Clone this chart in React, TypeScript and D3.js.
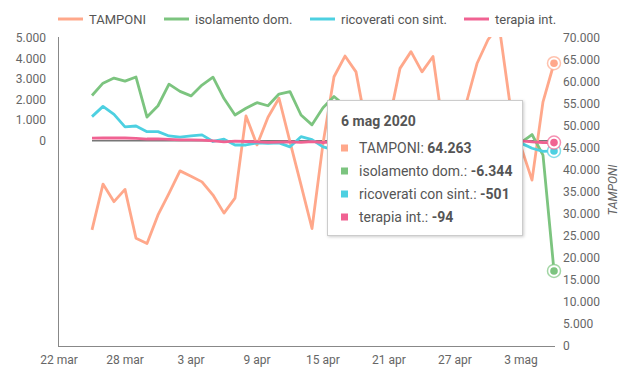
import React from "react";
import * as d3 from "d3";

const START = "2020-03-25";
const tamponi = [26400, 36800, 32800, 35600, 24500, 23300, 29800, 34700, 39800, 38600, 37300, 34300, 30200, 33600, 52300, 45700, 52000, 56300, 46400, 36600, 26700, 46000, 61200, 65900, 62300, 49000, 40000, 51000, 63100, 66900, 62300, 65800, 48000, 44000, 55000, 64200, 69600, 73000, 55000, 45300, 37700, 55500, 64263];
const isolamento = [2200, 2800, 3050, 2900, 3100, 1150, 1700, 2750, 2400, 2180, 2710, 3090, 2050, 1250, 1580, 1850, 1700, 2270, 2390, 1250, 770, 1600, 2150, 1700, 1800, 1500, 1000, 1600, 1200, 1500, 900, 1100, 600, 400, 800, 500, 300, 200, -100, -100, 300, -700, -6344];
const ricoverati = [1170, 1670, 1280, 670, 715, 440, 440, 230, 170, 230, 280, -40, 70, -210, -210, -110, -130, -110, -300, 195, 50, -300, -450, -350, -250, -400, -300, -350, -250, -300, -200, -350, -300, -250, -200, -300, -150, -200, -100, -120, -370, -520, -501];
const terapia = [120, 130, 130, 130, 110, 80, 90, 60, 40, 40, 30, -10, -60, -20, -40, -60, -80, -70, -60, -80, -50, -90, -40, -60, -70, -50, -80, -60, -90, -70, -60, -80, -50, -70, -60, -80, -50, -70, -40, -10, -60, -90, -94];

const seriesNames = ["TAMPONI", "isolamento dom.", "ricoverati con sint.", "terapia int."];
const seriesColors = ["#ffa88b", "#7cc47f", "#4dd0e1", "#f06292"];
const leftTicks = [0, 1000, 2000, 3000, 4000, 5000];
const rightTicks = [0, 5000, 10000, 15000, 20000, 25000, 30000, 35000, 40000, 45000, 50000, 55000, 60000, 65000, 70000];
const xTickLabels = ["22 mar", "28 mar", "3 apr", "9 apr", "15 apr", "21 apr", "27 apr", "3 mag"];
const tooltipTitle = "6 mag 2020";

const locale = d3.formatLocale({ decimal: ",", thousands: ".", grouping: [3], currency: ["€", ""], minus: "-" });
const fmt = locale.format(",d");

export default function App() {
  const W = 629, H = 380;
  const start = d3.timeParse("%Y-%m-%d")(START) as Date;
  const dates = tamponi.map((_, i) => d3.timeDay.offset(start, i));
  const x = d3.scaleTime().domain([d3.timeDay.offset(start, -3), dates[dates.length - 1]]).range([59, 554]);
  const yL = d3.scaleLinear().domain([-10000, 5000]).range([346, 38]);
  const yR = d3.scaleLinear().domain([0, 70000]).range([346, 38]);
  const xTicks = xTickLabels.map((_, i) => d3.timeDay.offset(start, -3 + i * 6));

  const all = [tamponi, isolamento, ricoverati, terapia];
  const lineFor = (k: number) =>
    d3.line<number>().x((_, i) => x(dates[i])).y((v) => (k === 0 ? yR(v) : yL(v)))(all[k]) || "";
  const zero = d3.line<Date>().x((d) => x(d)).y(() => yL(0))([dates[0], dates[dates.length - 1]]) || "";
  const last = dates.length - 1;
  const font = "Roboto, 'Noto Sans', sans-serif";

  const legendX = [58, 164, 310, 464];

  return (
    <svg width={W} height={H} style={{ position: "absolute", left: 0, top: 0 }} fontFamily={font}>
      <defs>
        <clipPath id="plot">
          <rect x={58} y={37} width={500} height={310} />
        </clipPath>
        <filter id="sh" x="-10%" y="-10%" width="130%" height="130%">
          <feDropShadow dx="1" dy="1" stdDeviation="1.5" floodColor="#000" floodOpacity="0.2" />
        </filter>
      </defs>
      {/* legend */}
      {seriesNames.map((n, i) => (
        <g key={n}>
          <line x1={legendX[i]} x2={legendX[i] + 25} y1={19} y2={19} stroke={seriesColors[i]} strokeWidth={3} />
          <text x={legendX[i] + 31} y={19} dy="0.35em" fontSize={13} fill="#555">{n}</text>
        </g>
      ))}
      {/* left axis */}
      {leftTicks.map((t) => (
        <text key={t} x={46} y={yL(t)} dy="0.35em" textAnchor="end" fontSize={12} fill="#666">{fmt(t)}</text>
      ))}
      {/* right axis */}
      {rightTicks.map((t) => (
        <text key={t} x={563} y={yR(t)} dy="0.35em" textAnchor="start" fontSize={12} fill="#666">{fmt(t)}</text>
      ))}
      <text transform={`translate(617,190) rotate(-90)`} textAnchor="middle" fontSize={12} fontStyle="italic" fill="#666">TAMPONI</text>
      {/* x axis labels */}
      {xTicks.map((d, i) => (
        <text key={i} x={x(d)} y={360} dy="0.35em" textAnchor="middle" fontSize={12} fill="#666">{xTickLabels[i]}</text>
      ))}
      <line x1={58.5} x2={58.5} y1={37} y2={346.5} stroke="#888" strokeWidth={1} />
      <line x1={58} x2={555} y1={346.5} y2={346.5} stroke="#888" strokeWidth={1} />
      <g clipPath="url(#plot)" fill="none" strokeWidth={2.8} strokeLinejoin="round">
        <path d={zero} stroke="#777" strokeWidth={1.5} />
        {all.map((_, k) => (
          <path key={k} d={lineFor(k)} stroke={seriesColors[k]} />
        ))}
      </g>
      {/* markers */}
      {all.map((s, k) => {
        const cx = x(dates[last]);
        const cy = k === 0 ? yR(s[last]) : yL(s[last]);
        return (
          <g key={k}>
            <circle cx={cx} cy={cy} r={6.5} fill="#fff" stroke={seriesColors[k]} strokeOpacity={0.7} strokeWidth={1.5} />
            <circle cx={cx} cy={cy} r={3.8} fill={seriesColors[k]} />
          </g>
        );
      })}
      {/* tooltip */}
      <g>
        <rect x={327.5} y={100.5} width={195} height={135} fill="#fff" stroke="#ccc" filter="url(#sh)" />
        <text x={341} y={121} dy="0.35em" fontSize={14} fontWeight="bold" fill="#555">{tooltipTitle}</text>
        {seriesNames.map((n, k) => (
          <g key={n}>
            <rect x={341} y={148 + k * 23 - 3.5} width={7} height={7} fill={seriesColors[k]} />
            <text x={359} y={148 + k * 23} dy="0.35em" fontSize={14} fill="#555">
              {n}: <tspan fontWeight="bold">{fmt(all[k][last])}</tspan>
            </text>
          </g>
        ))}
      </g>
    </svg>
  );
}
